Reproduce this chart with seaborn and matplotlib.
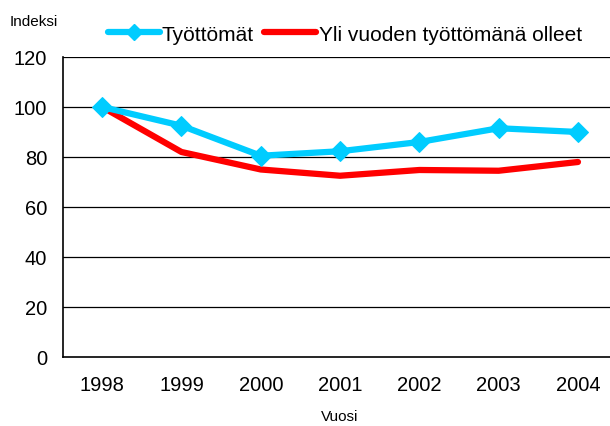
import matplotlib
matplotlib.use("Agg")
import matplotlib.pyplot as plt
import seaborn as sns
import pandas as pd
from matplotlib.lines import Line2D

years = ["1998", "1999", "2000", "2001", "2002", "2003", "2004"]
tyottomat = [100, 92.5, 80.5, 82.3, 86, 91.5, 90]
pitkaaikais = [100, 82, 75, 72.5, 74.8, 74.5, 78]
yticks = [0, 20, 40, 60, 80, 100, 120]

sns.set_theme(style="white")
plt.rcParams['font.family'] = ['Liberation Sans', 'DejaVu Sans']
plt.rcParams['text.color'] = 'black'
plt.rcParams['xtick.color'] = 'black'
plt.rcParams['ytick.color'] = 'black'
plt.rcParams['axes.labelcolor'] = 'black'

df = pd.DataFrame({"pos": list(range(len(years))),
                   "Työttömät": tyottomat,
                   "Yli vuoden työttömänä olleet": pitkaaikais})

fig = plt.figure(figsize=(6.1, 4.27), dpi=100)
ax = fig.add_axes([0.1025, 0.1616, 0.91, 0.7026])

blue = "#00CCFF"
red = "#FF0000"

sns.lineplot(data=df, x="pos", y="Yli vuoden työttömänä olleet", ax=ax,
             color=red, linewidth=4.5, zorder=3, legend=False)
sns.lineplot(data=df, x="pos", y="Työttömät", ax=ax, color=blue,
             linewidth=4.5, marker="D", markersize=10, markeredgecolor=blue,
             zorder=4, legend=False)

ax.set_xlim(-0.5, len(years) - 0.5)
ax.set_ylim(0, 120)
ax.set_yticks(yticks)
ax.set_yticklabels([str(v) for v in yticks], fontsize=14.5)
ax.set_xticks(range(len(years)))
ax.set_xticklabels(years, fontsize=14.5)
ax.set_xticks([i - 0.5 for i in range(len(years) + 1)], minor=True)
ax.tick_params(axis="x", which="major", length=0, pad=13)
ax.tick_params(axis="x", which="minor", length=6, width=1, color="black", direction="out")
ax.tick_params(axis="y", length=6, width=1, color="black", direction="out", pad=5)
for y in yticks[1:]:
    ax.axhline(y, color="black", linewidth=0.9, zorder=1)

for s in ["top", "right"]:
    ax.spines[s].set_visible(False)
for s in ["left", "bottom"]:
    ax.spines[s].set_color("black")
    ax.spines[s].set_linewidth(1.2)

ax.set_ylabel("")
ax.set_xlabel("Vuosi", fontsize=11, labelpad=11)
fig.text(0.016, 0.948, "Indeksi", fontsize=11, ha="left", va="center")

handles = [Line2D([], [], color=blue, linewidth=4.5, marker="D", markersize=8),
           Line2D([], [], color=red, linewidth=4.5)]
fig.legend(handles, ["Työttömät", "Yli vuoden työttömänä olleet"],
           loc="center", bbox_to_anchor=(0.565, 0.918), ncol=2, frameon=False,
           fontsize=15, handlelength=2.5, handletextpad=0.1, columnspacing=0.5)

fig.savefig("out.png", dpi=100, facecolor="white")
